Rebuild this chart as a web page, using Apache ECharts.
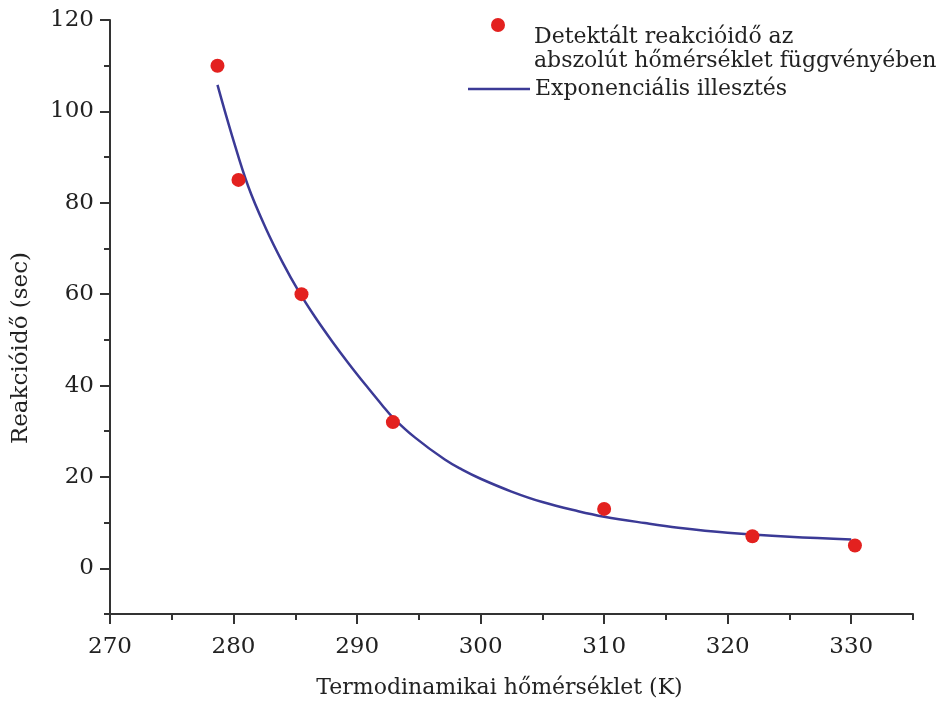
<!DOCTYPE html>
<html>
<head>
<meta charset="utf-8">
<script src="https://cdn.jsdelivr.net/npm/echarts@6/dist/echarts.min.js"></script>
<style>
  html, body { margin: 0; padding: 0; background: #fff; }
  #chart { width: 945px; height: 705px; }
</style>
</head>
<body>
<div id="chart"></div>
<script>
// mért pontok
var tempK = [278.7, 280.4, 285.5, 292.9, 310.0, 322.0, 330.3];
var reactSec = [110, 85, 60, 32, 13, 7, 5];

// illesztett görbe
var fitX = [278.7, 279.9, 281.2, 282.6, 284.0, 285.3, 286.6, 288.0, 289.3, 290.7, 292.0, 292.9, 294.7, 297.1, 298.5, 300.0, 302.5, 305.0, 307.9, 310.0, 313.3, 316.0, 320.0, 325.0, 330.0];
var fitY = [105.8, 94.5, 83.5, 74.5, 66.8, 60.5, 55.0, 49.6, 44.9, 40.1, 35.8, 33.0, 28.6, 23.8, 21.6, 19.6, 16.8, 14.5, 12.5, 11.3, 9.9, 8.9, 7.8, 6.9, 6.3];

var xTicks = [270, 280, 290, 300, 310, 320, 330];
var xMinorTicks = [275, 285, 295, 305, 315, 325, 335];
var yTicks = [0, 20, 40, 60, 80, 100, 120];
var yMinorTicks = [-10, 10, 30, 50, 70, 90, 110];

var scatterName = 'Detektált reakcióidő az abszolút hőmérséklet függvényében';
var fitName = 'Exponenciális illesztés';

var font = 'DejaVu Serif';
var axisColor = '#333';
var textColor = '#222';

var scatterData = [];
for (var i = 0; i < tempK.length; ++i) {
    scatterData.push([tempK[i], reactSec[i]]);
}
var fitData = [];
for (var j = 0; j < fitX.length; ++j) {
    fitData.push([fitX[j], fitY[j]]);
}

var myChart = echarts.init(document.getElementById('chart'));
myChart.setOption({
    animation: false,
    grid: { left: 110, right: 32, top: 20, bottom: 91 },
    legend: [
        {
            // két üres sor elöl, hogy a pont az első sorhoz kerüljön
            data: [{ name: scatterName, icon: 'circle' }],
            left: 491,
            top: -23,
            padding: 0,
            itemWidth: 62,
            itemHeight: 14,
            formatter: function (name) {
                return '\n\n' + name.replace(' az ', ' az\n');
            },
            textStyle: { fontFamily: font, fontSize: 22, color: textColor, lineHeight: 24 }
        },
        {
            data: [{ name: fitName, icon: 'rect' }],
            left: 468,
            top: 77,
            padding: 0,
            itemWidth: 62,
            itemHeight: 2.5,
            textStyle: { fontFamily: font, fontSize: 22, color: textColor, lineHeight: 24 }
        }
    ],
    xAxis: [
        {
            type: 'value',
            min: 270,
            max: 335,
            position: 'bottom',
            name: 'Termodinamikai hőmérséklet (K)',
            nameLocation: 'middle',
            nameGap: 63,
            nameTextStyle: {
                fontFamily: font, fontSize: 22, color: textColor,
                padding: [0, 24, 0, 0]
            },
            axisLine: { onZero: false, lineStyle: { color: axisColor, width: 2 } },
            axisTick: { customValues: xTicks, length: 10, lineStyle: { color: axisColor, width: 2 } },
            axisLabel: {
                customValues: xTicks, margin: 22,
                fontFamily: font, fontSize: 23, color: textColor
            },
            splitLine: { show: false }
        },
        {
            type: 'value',
            min: 270,
            max: 335,
            position: 'bottom',
            axisLine: { show: false, onZero: false },
            axisTick: { customValues: xMinorTicks, length: 6, lineStyle: { color: axisColor, width: 2 } },
            axisLabel: { show: false },
            splitLine: { show: false }
        }
    ],
    yAxis: [
        {
            type: 'value',
            min: -10,
            max: 120,
            position: 'left',
            name: 'Reakcióidő (sec)',
            nameLocation: 'middle',
            nameGap: 77,
            nameTextStyle: {
                fontFamily: font, fontSize: 23, color: textColor,
                padding: [0, 62, 0, 0]
            },
            axisLine: { show: true, onZero: false, lineStyle: { color: axisColor, width: 2 } },
            axisTick: { show: true, customValues: yTicks, length: 10, lineStyle: { color: axisColor, width: 2 } },
            axisLabel: {
                customValues: yTicks, margin: 16,
                fontFamily: font, fontSize: 23, color: textColor
            },
            splitLine: { show: false }
        },
        {
            type: 'value',
            min: -10,
            max: 120,
            position: 'left',
            axisLine: { show: false, onZero: false },
            axisTick: { show: true, customValues: yMinorTicks, length: 6, lineStyle: { color: axisColor, width: 2 } },
            axisLabel: { show: false },
            splitLine: { show: false }
        }
    ],
    series: [
        {
            name: fitName,
            type: 'line',
            data: fitData,
            smooth: 0.4,
            symbol: 'none',
            lineStyle: { color: '#3b3a96', width: 2.5 },
            itemStyle: { color: '#3b3a96' },
            z: 2
        },
        {
            name: scatterName,
            type: 'scatter',
            data: scatterData,
            symbolSize: 14,
            itemStyle: { color: '#e3211f', opacity: 1 },
            z: 3
        }
    ]
});
</script>
</body>
</html>
